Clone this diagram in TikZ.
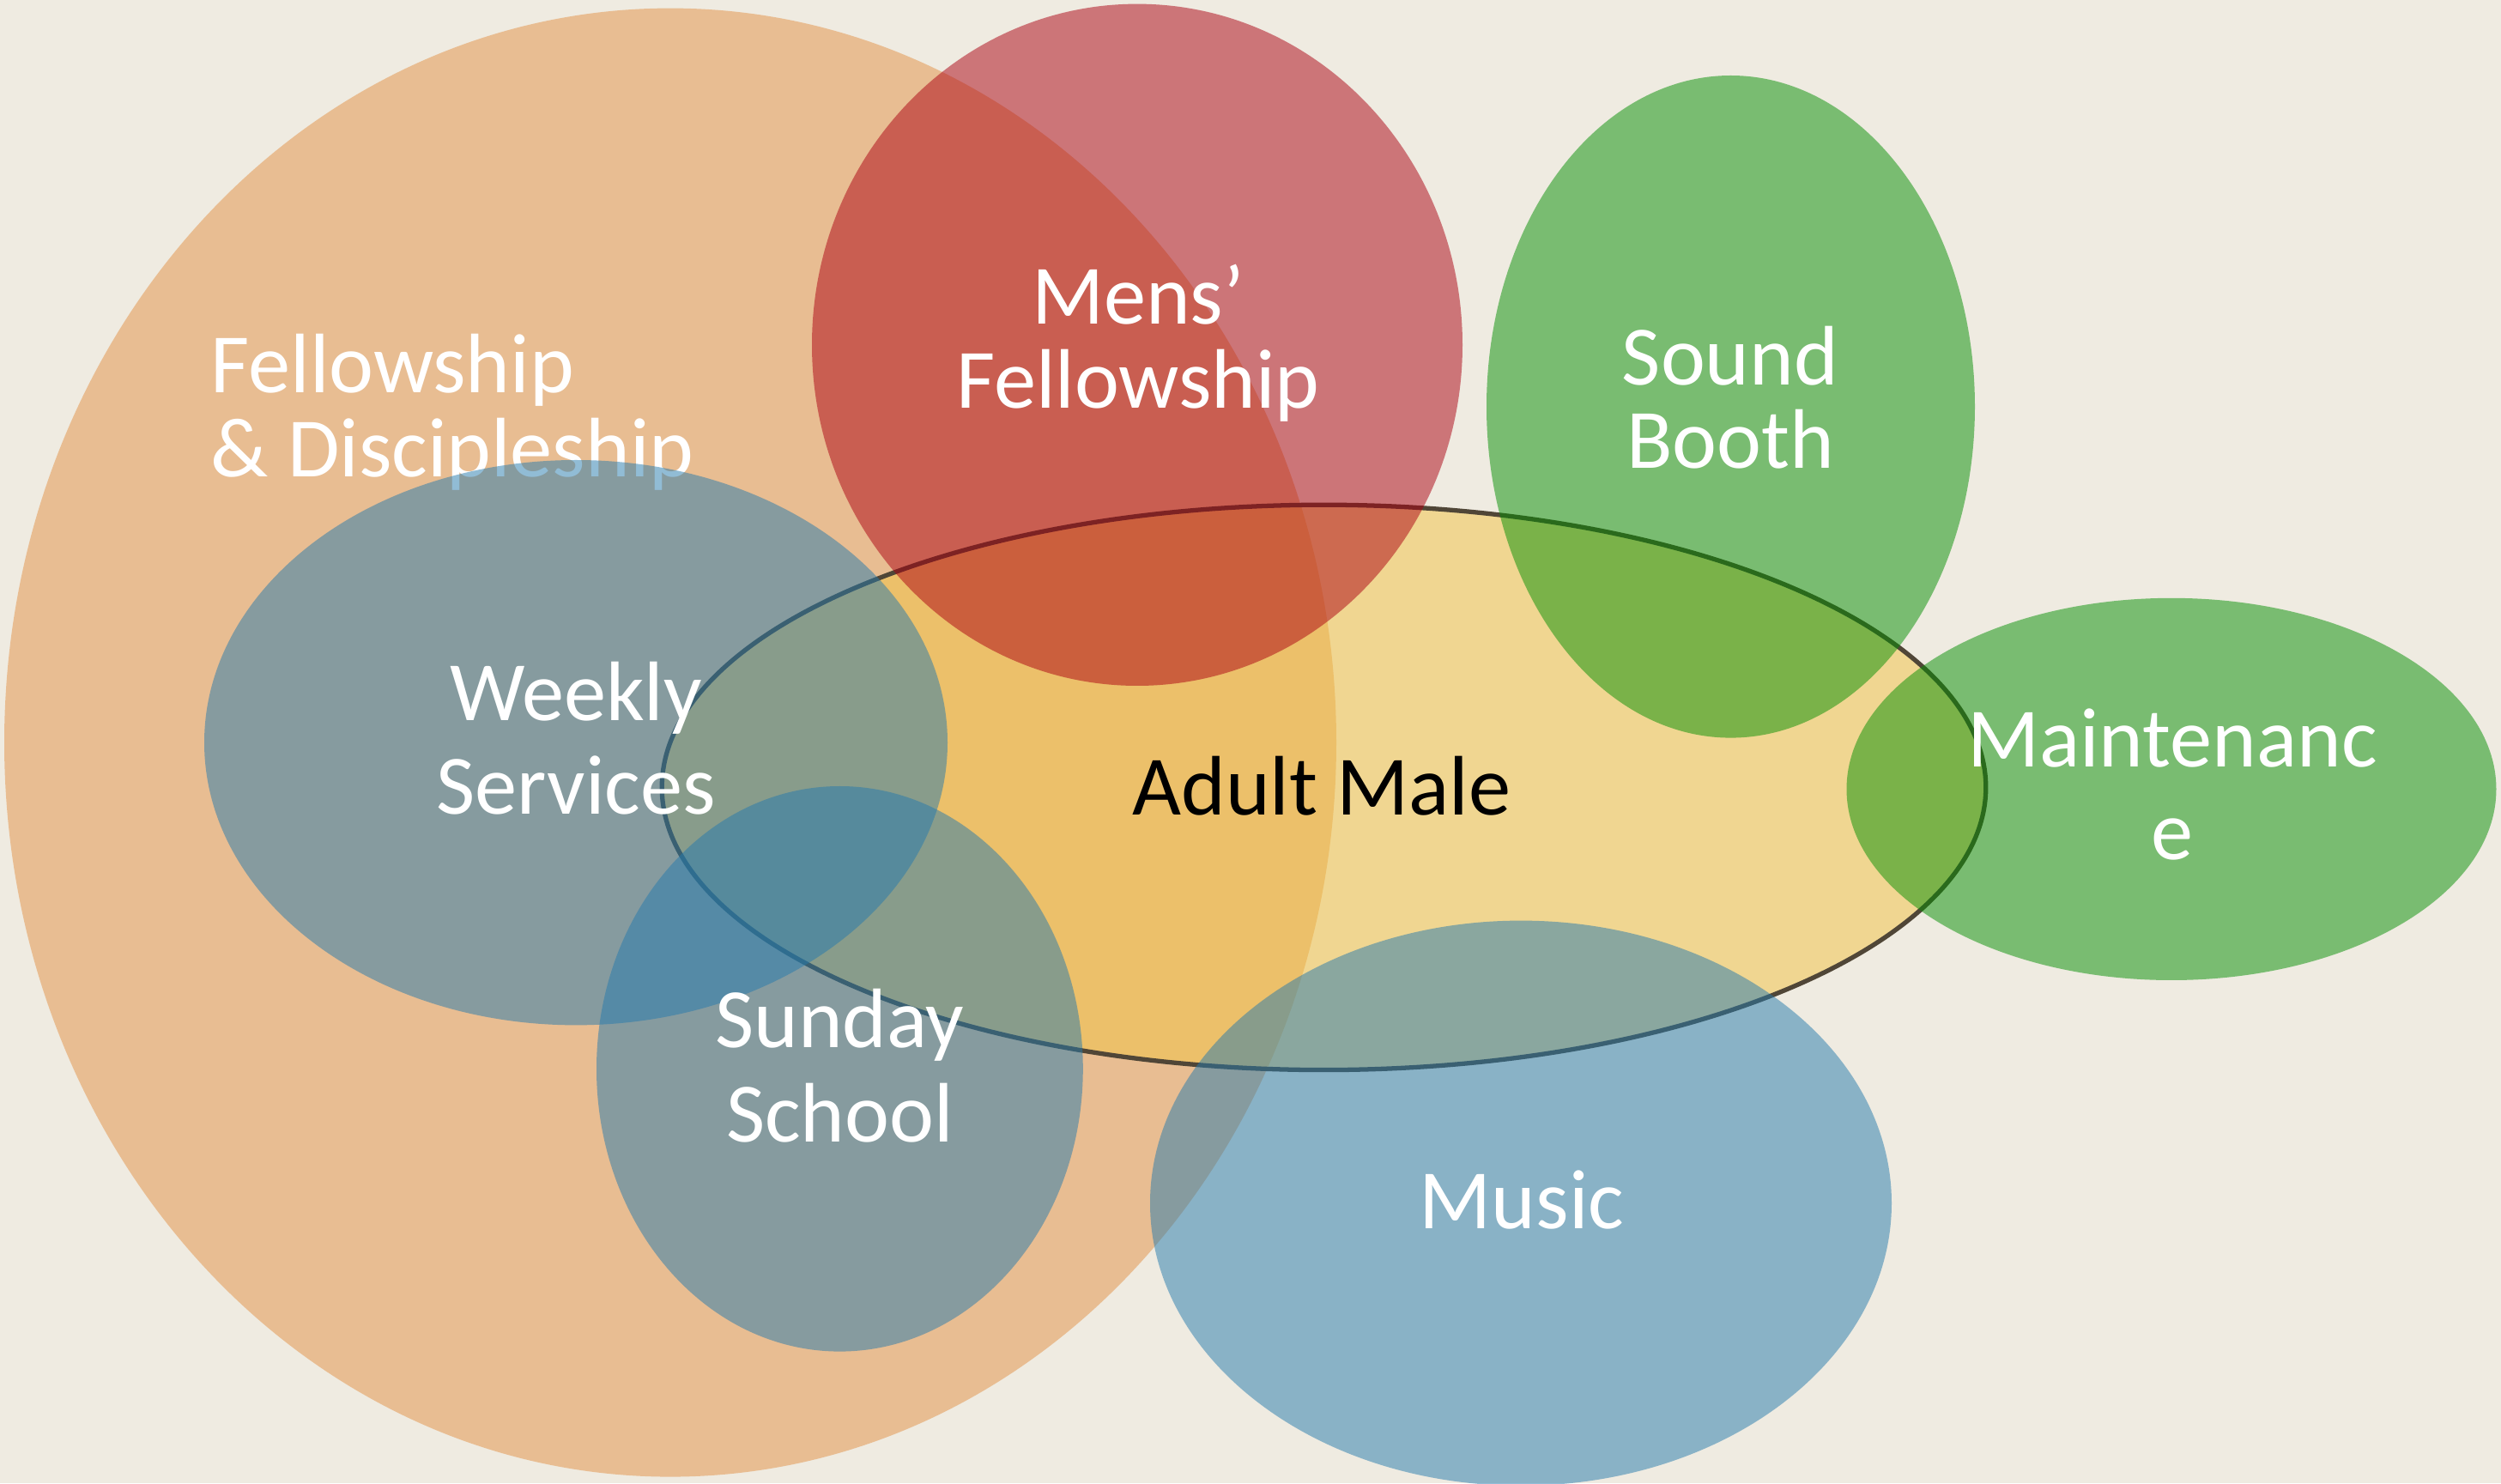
\documentclass[tikz,border=0pt]{standalone}
\usepackage{fontspec}
\setmainfont{Carlito}
\definecolor{bgcol}{RGB}{239,235,225}
\definecolor{fdcol}{RGB}{227,145,69}
\definecolor{mfcol}{RGB}{171,0,17}
\definecolor{amcol}{RGB}{241,195,67}
\definecolor{amline}{RGB}{80,70,55}
\definecolor{grcol}{RGB}{5,143,3}
\definecolor{blcol}{RGB}{37,122,173}
\begin{document}
\begin{tikzpicture}[line join=round, line cap=round,
	set/.style={fill=#1, fill opacity=0.5},
	lbl/.style={inner sep=0, align=center, text=white, font=\fontsize{28}{#1}\selectfont},
	lbl/.default=27.7]
	\useasboundingbox (0,0) rectangle (29.14,17.28);
	\fill[bgcol] (0,0) rectangle (29.14,17.28);
	\path
	(7.81,8.629)coordinate (FD)
	(15.425,8.106)coordinate (AM)
	(13.25,13.262)coordinate (MF)
	(20.165,12.542)coordinate (SB)
	(25.30,8.086)coordinate (MT)
	(6.71,8.628)coordinate (WS)
	(9.784,4.827)coordinate (SS)
	(17.72,3.262)coordinate (MU)
	;
	% fellowship & discipleship
	\fill[set=fdcol] (FD) ellipse (7.76 and 8.555);
	\node[lbl, align=left, anchor=west] (fdLbl) at (2.45,12.478) {Fellowship\\\& Discipleship};
	% adult male
	\fill[set=amcol] (AM) ellipse (7.713 and 3.292);
	\draw[amline, line width=1.5pt] (AM) ellipse (7.713 and 3.292);
	\node[lbl, text=black] (amLbl) at (15.40,8.126) {Adult Male};
	% mens' fellowship
	\fill[set=mfcol] (MF) ellipse (3.79 and 3.972);
	\node[lbl] (mfLbl) at (13.26,13.281) {Mens’\\Fellowship};
	% sound booth, maintenance
	\fill[set=grcol] (SB) ellipse (2.845 and 3.858);
	\node[lbl] (sbLbl) at (20.16,12.646) {Sound\\Booth};
	\fill[set=grcol] (MT) ellipse (3.785 and 2.226);
	\node[lbl=30.6] (mtLbl) at (25.31,8.138) {Maintenanc\\e};
	% weekly services, sunday school, music
	\fill[set=blcol] (WS) ellipse (4.33 and 3.292);
	\node[lbl=30.9] (wsLbl) at (6.71,8.679) {Weekly\\Services};
	\fill[set=blcol] (SS) ellipse (2.834 and 3.293);
	\node[lbl=31.2] (ssLbl) at (9.785,4.866) {Sunday\\School};
	\fill[set=blcol] (MU) ellipse (4.32 and 3.292);
	\node[lbl] (muLbl) at (17.73,3.30) {Music};
\end{tikzpicture}
\end{document}
